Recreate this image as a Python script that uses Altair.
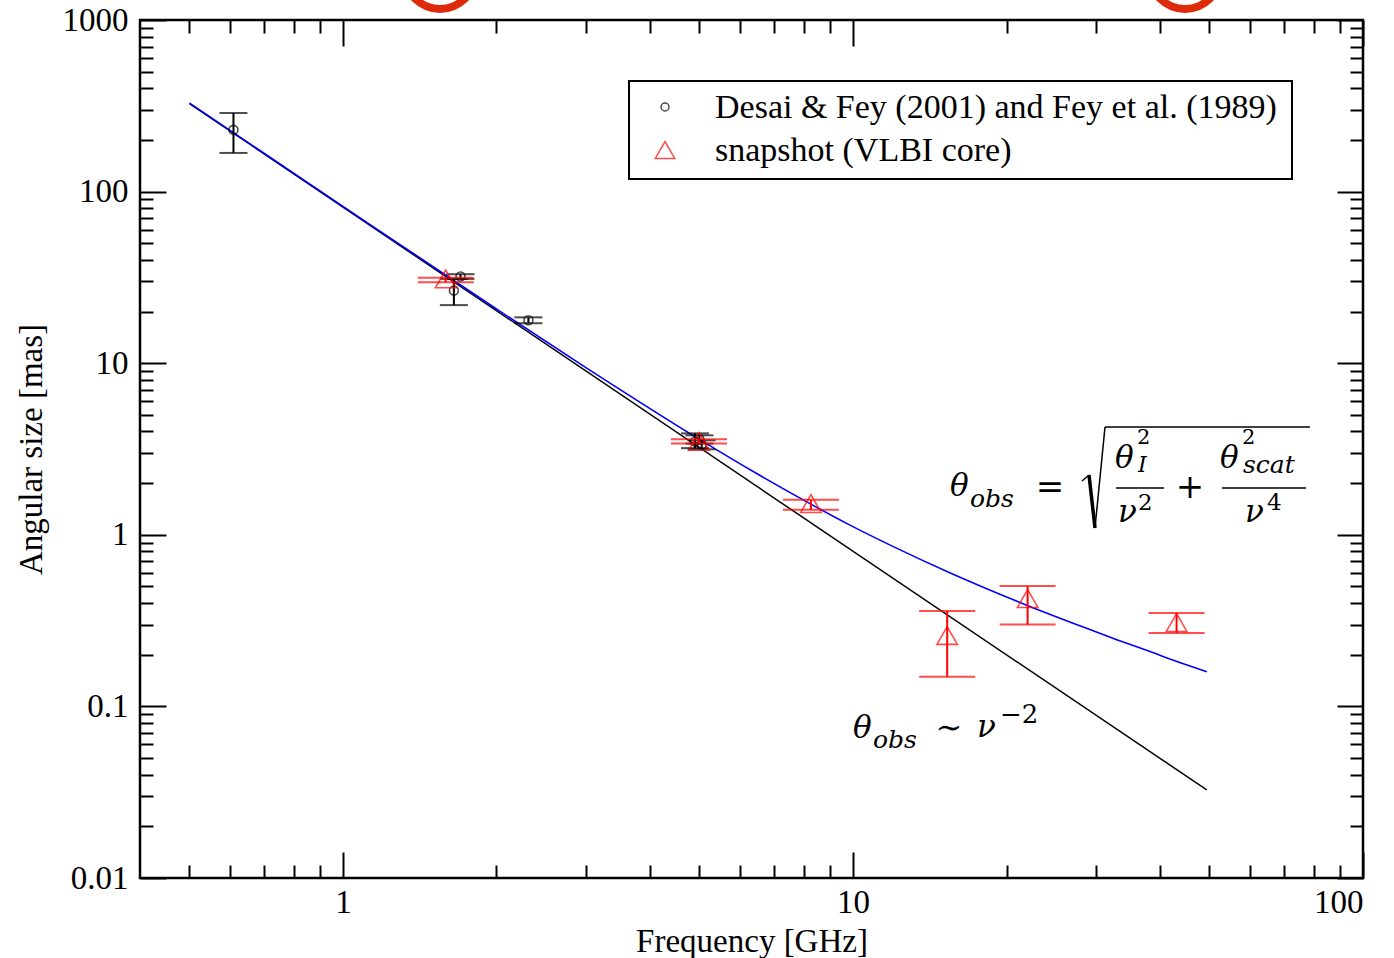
import altair as alt
import pandas as pd

# Desai & Fey (2001) and Fey et al. (1989): frequency [GHz], angular size [mas], error range
df_freq = [0.61, 1.65, 1.70, 2.31, 4.90, 5.00, 5.05]
df_size = [229, 26.5, 32.0, 17.8, 3.5, 3.6, 3.35]
df_lo = [168, 21.8, 31.0, 17.1, 3.2, 3.4, 3.15]
df_hi = [287, 31.0, 33.0, 18.5, 3.9, 3.8, 3.55]

# snapshot VLBI core sizes
sn_freq = [1.59, 4.99, 8.27, 15.3, 22.0, 43.1]
sn_size = [31.0, 3.5, 1.52, 0.259, 0.425, 0.308]
sn_lo = [29.6, 3.4, 1.40, 0.149, 0.300, 0.268]
sn_hi = [31.5, 3.6, 1.60, 0.36, 0.503, 0.35]

# pure scattering law, theta ~ nu^-2
law_freq = [0.5, 49.4]
law_size = [326, 0.0326]

# scattering plus intrinsic size
fit_freq = [0.5, 1.0, 2.0, 3.0, 5.0, 6.5, 8.3, 9.8, 12.0, 15.4, 18.0, 22.1,
            28.1, 33.0, 38.0, 44.0, 49.4]
fit_size = [328, 82, 20.7, 9.4, 3.6, 2.26, 1.50, 1.15, 0.853, 0.605, 0.495, 0.385,
            0.292, 0.244, 0.21, 0.179, 0.159]

# axis ticks and labels
x_labels = [1, 10, 100]
y_labels = [0.01, 0.1, 1, 10, 100, 1000]
x_ticks = [0.5, 0.6, 0.7, 0.8, 0.9, 1, 2, 3, 4, 5, 6, 7, 8, 9,
           10, 20, 30, 40, 50, 60, 70, 80, 90, 100]
y_ticks = [m * 10.0 ** e for e in range(-2, 3) for m in range(1, 10)] + [1000]

W, H = 1223, 858
SERIF = "Liberation Serif"
MATH = "DejaVu Serif"

black = pd.DataFrame({"freq": df_freq, "size": df_size, "lo": df_lo, "hi": df_hi})
snap = pd.DataFrame({"freq": sn_freq, "size": sn_size, "lo": sn_lo, "hi": sn_hi})
law = pd.DataFrame({"freq": law_freq, "size": law_size})
fit = pd.DataFrame({"freq": fit_freq, "size": fit_size})
one = pd.DataFrame({"k": [0]})

xscale = alt.Scale(type="log", domain=[0.4, 100], nice=False)
yscale = alt.Scale(type="log", domain=[0.01, 1000], nice=False)

major = "abs(log(datum.value) / LN10 - round(log(datum.value) / LN10)) < 0.001"
tick_len = {"condition": {"test": major, "value": 26}, "value": 13}


def tick_axis(orient, offset, values):
    return alt.Axis(orient=orient, offset=offset, values=values, labels=False,
                    domain=False, grid=False, tickSize=tick_len, tickWidth=2,
                    tickColor="black", title=None)


def X(field, axis=None):
    return alt.X(field, type="quantitative", scale=xscale, axis=axis)


def Y(field, axis=None):
    return alt.Y(field, type="quantitative", scale=yscale, axis=axis)


x_label_axis = alt.Axis(orient="bottom", values=x_labels, format="~g", ticks=False,
                        tickSize=0, domain=False, grid=False, labelFont=SERIF,
                        labelFontSize=33, labelColor="black", labelPadding=8,
                        title="Frequency [GHz]", titleFont=SERIF, titleFontSize=33,
                        titleFontWeight="normal", titleColor="black", titlePadding=6)
y_label_axis = alt.Axis(orient="left", values=y_labels, format="~g", ticks=False,
                        tickSize=0, domain=False, grid=False, labelFont=SERIF,
                        labelFontSize=33, labelColor="black", labelPadding=12,
                        title="Angular size [mas]", titleFont=SERIF, titleFontSize=33,
                        titleFontWeight="normal", titleColor="black", titlePadding=14)

# model curves (carry the inward tick axes)
law_line = alt.Chart(law).mark_line(color="black", strokeWidth=1.5).encode(
    x=X("freq", tick_axis("top", -H, x_ticks)),
    y=Y("size", tick_axis("right", -W, y_ticks)),
)
fit_line = alt.Chart(fit).mark_line(color="#0000ff", strokeWidth=1.6,
                                    interpolate="monotone").encode(
    x=X("freq", tick_axis("bottom", -H, x_ticks)),
    y=Y("size", tick_axis("left", -W, y_ticks)),
)

# Desai & Fey points with error bars
b_bar = alt.Chart(black).mark_rule(color="black", strokeWidth=2).encode(
    x=X("freq"), y=Y("lo"), y2="hi")
b_lo = alt.Chart(black).mark_tick(orient="horizontal", size=28, thickness=2,
                                  color="black").encode(x=X("freq"), y=Y("lo"))
b_hi = alt.Chart(black).mark_tick(orient="horizontal", size=28, thickness=2,
                                  color="black").encode(x=X("freq"), y=Y("hi"))
b_pts = alt.Chart(black).mark_point(shape="circle", size=80, filled=False,
                                    color="black", strokeWidth=1.6).encode(
    x=X("freq", x_label_axis), y=Y("size", y_label_axis))

# snapshot points with error bars
r_bar = alt.Chart(snap).mark_rule(color="#ff0000", strokeWidth=2).encode(
    x=X("freq"), y=Y("lo"), y2="hi")
r_lo = alt.Chart(snap).mark_tick(orient="horizontal", size=56, thickness=2,
                                 color="#ff0000").encode(x=X("freq"), y=Y("lo"))
r_hi = alt.Chart(snap).mark_tick(orient="horizontal", size=56, thickness=2,
                                 color="#ff0000").encode(x=X("freq"), y=Y("hi"))
r_pts = alt.Chart(snap).mark_point(shape="triangle-up", size=420, filled=False,
                                   color="#ff0000", strokeWidth=1.6).encode(
    x=X("freq"), y=Y("size"))


def txt(s, x, y, size, font=MATH, style="italic", align="left", color="black"):
    return alt.Chart(one).mark_text(text=s, font=font, fontSize=size, fontStyle=style,
                                    align=align, baseline="alphabetic",
                                    color=color).encode(x=alt.value(x), y=alt.value(y))


def seg(x1, y1, x2, y2, width=1.5):
    return alt.Chart(one).mark_rule(color="black", strokeWidth=width).encode(
        x=alt.value(x1), y=alt.value(y1), x2=alt.value(x2), y2=alt.value(y2))


# legend box
legend = [
    alt.Chart(one).mark_rect(fill="white", stroke="black", strokeWidth=2).encode(
        x=alt.value(489), x2=alt.value(1152), y=alt.value(61), y2=alt.value(159)),
    alt.Chart(one).mark_point(shape="circle", size=64, filled=False, color="black",
                              strokeWidth=1.5).encode(x=alt.value(525), y=alt.value(87)),
    alt.Chart(one).mark_point(shape="triangle-up", size=380, filled=False,
                              color="#ff0000", strokeWidth=1.5).encode(
        x=alt.value(525), y=alt.value(130)),
    txt("Desai & Fey (2001) and Fey et al. (1989)", 575, 98, 34, font=SERIF, style="normal"),
    txt("snapshot (VLBI core)", 575, 141, 34, font=SERIF, style="normal"),
]

# theta_obs = sqrt(theta_I^2 / nu^2 + theta_scat^2 / nu^4)
formula = [
    txt("θ", 810, 476, 31),
    txt("obs", 830, 487, 25),
    txt("=", 910, 478, 34, style="normal", align="center"),
    seg(942, 461, 949, 455),
    seg(949, 455, 955, 508, 3.5),
    seg(955, 508, 965, 407),
    seg(965, 407, 1170, 407),
    txt("θ", 975, 448, 31),
    txt("2", 997, 424, 21, style="normal"),
    txt("I", 998, 452, 22),
    seg(976, 468, 1024, 468),
    txt("ν", 978, 502, 31),
    txt("2", 998, 490, 23, style="normal"),
    txt("+", 1050, 478, 34, style="normal", align="center"),
    txt("θ", 1080, 448, 31),
    txt("2", 1102, 424, 21, style="normal"),
    txt("scat", 1103, 453, 25),
    seg(1082, 468, 1166, 468),
    txt("ν", 1105, 502, 31),
    txt("4", 1127, 490, 23, style="normal"),
]

# theta_obs ~ nu^-2
law_label = [
    txt("θ", 713, 718, 31),
    txt("obs", 733, 728, 25),
    txt("∼", 809, 718, 32, style="normal", align="center"),
    txt("ν", 837, 717, 31),
    txt("−2", 860, 703, 26, style="normal"),
]

# red ring marks above the frame
rings = [
    alt.Chart(one).mark_arc(radius=39, radius2=31, theta=0, theta2=6.2832,
                            color="#dc2a0a").encode(x=alt.value(300), y=alt.value(-46)),
    alt.Chart(one).mark_arc(radius=39, radius2=31, theta=0, theta2=6.2832,
                            color="#dc2a0a").encode(x=alt.value(1045), y=alt.value(-46)),
]

chart = alt.layer(
    law_line, fit_line, b_bar, b_lo, b_hi, b_pts, r_bar, r_lo, r_hi, r_pts,
    *legend, *formula, *law_label, *rings,
).resolve_axis(
    x="independent", y="independent"
).properties(
    width=W, height=H,
    autosize=alt.AutoSizeParams(type="none"),
    padding={"left": 140, "top": 20, "right": 31, "bottom": 80},
    background="white",
).configure_view(
    stroke="black", strokeWidth=2.5
)

chart.save("out.html", embed_options={"renderer": "svg", "actions": False})
